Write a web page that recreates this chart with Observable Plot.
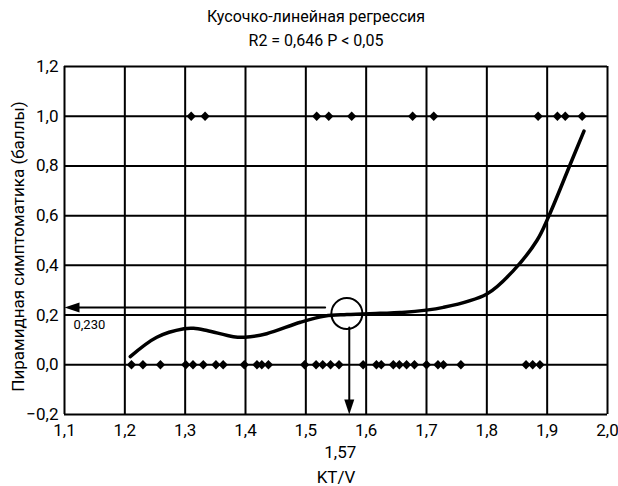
<!DOCTYPE html>
<html>
<head>
<meta charset="utf-8">
<script src="https://cdn.jsdelivr.net/npm/d3@7"></script>
<script src="https://cdn.jsdelivr.net/npm/@observablehq/plot@0.6"></script>
<style>
  body { margin: 0; background: #fff; }
  #wrap { width: 618px; font-family: Roboto, "Liberation Sans", sans-serif; }
  .title { text-align: center; font-size: 16px; line-height: 24px; color: #000; height: 56px; padding-top: 5px; box-sizing: border-box; padding-left: 14px; }
</style>
</head>
<body>
<div id="wrap">
  <div class="title" id="title"></div>
  <div id="chart"></div>
</div>
<script>
// ---- data ----
const titleLines = ["Кусочко-линейная регрессия", "R2 = 0,646 P < 0,05"];
const xLabel = "KT/V";
const yLabel = "Пирамидная симптоматика (баллы)";
const xTicks = [1.1, 1.2, 1.3, 1.4, 1.5, 1.6, 1.7, 1.8, 1.9, 2.0];
const yTicks = [-0.2, 0.0, 0.2, 0.4, 0.6, 0.8, 1.0, 1.2];

// observed patients with score 1
const score1X = [1.310, 1.333, 1.518, 1.538, 1.576, 1.677, 1.712, 1.885, 1.917, 1.930, 1.958];
// observed patients with score 0
const score0X = [1.211, 1.230, 1.259, 1.301, 1.313, 1.330, 1.351, 1.363, 1.398, 1.419, 1.427, 1.438,
                 1.498, 1.517, 1.528, 1.541, 1.555, 1.595, 1.617, 1.625, 1.645, 1.655, 1.667, 1.680,
                 1.700, 1.719, 1.728, 1.757, 1.865, 1.876, 1.888];

// fitted regression curve
const curveX = [1.209, 1.253, 1.298, 1.314, 1.336, 1.380, 1.399, 1.435, 1.491, 1.532, 1.568, 1.623, 1.656, 1.728, 1.800, 1.844, 1.883, 1.902, 1.941, 1.961];
const curveY = [0.033, 0.111, 0.145, 0.147, 0.138, 0.113, 0.111, 0.125, 0.171, 0.196, 0.202, 0.207, 0.210, 0.231, 0.285, 0.379, 0.500, 0.594, 0.823, 0.940];

// threshold annotation
const threshX = 1.572;       // KT/V threshold
const threshY = 0.230;       // score at threshold
const threshXLabel = "1,57";
const threshYLabel = "0,230";
const circleCenter = {x: 1.568, y: 0.206};
const hArrowStartX = 1.532;  // right end of horizontal arrow
const vArrowStartY = 0.150;  // top end of vertical arrow

// ---- build tables ----
document.getElementById("title").innerHTML = titleLines.map(t => t.replace(/</g, "&lt;")).join("<br>");

const pts = [
  ...score1X.map(x => ({x, y: 1})),
  ...score0X.map(x => ({x, y: 0}))
];
const curve = curveX.map((x, i) => ({x, y: curveY[i]}));

const fmt = d => d.toFixed(1).replace(".", ",").replace("-", "−");

// filled arrowhead pointing up with tip at origin
const arrowHead = {
  draw(ctx) {
    ctx.moveTo(0, 0);
    ctx.lineTo(5, 15);
    ctx.lineTo(-5, 15);
    ctx.closePath();
  }
};

const fontFamily = 'Roboto, "Liberation Sans", sans-serif';

const chart = Plot.plot({
  width: 618,
  height: 430,
  marginTop: 10,
  marginBottom: 72,
  marginLeft: 64,
  marginRight: 11,
  style: {fontFamily, fontSize: "17px", color: "#000", background: "#fff", overflow: "visible"},
  x: {domain: [1.1, 2.0], ticks: xTicks},
  y: {domain: [-0.2, 1.2], ticks: yTicks},
  marks: [
    Plot.ruleX(xTicks, {stroke: "#000", strokeWidth: 2}),
    Plot.ruleY(yTicks, {stroke: "#000", strokeWidth: 2}),
    Plot.axisX({ticks: xTicks, tickSize: 0, tickPadding: 9, tickFormat: fmt, label: null, fontSize: 17}),
    Plot.axisY({ticks: yTicks, tickSize: 0, tickPadding: 6, tickFormat: fmt, label: null, fontSize: 17}),
    Plot.line(curve, {x: "x", y: "y", stroke: "#000", strokeWidth: 3.5, curve: "catmull-rom"}),
    Plot.dot(pts, {x: "x", y: "y", symbol: "diamond2", r: 4.2, fill: "#000", stroke: null}),
    // horizontal arrow
    Plot.line([{x: hArrowStartX, y: threshY}, {x: 1.112, y: threshY}], {x: "x", y: "y", stroke: "#000", strokeWidth: 2}),
    Plot.dot([{x: 1.1, y: threshY}], {x: "x", y: "y", symbol: arrowHead, rotate: -90, fill: "#000", stroke: null}),
    // vertical arrow
    Plot.line([{x: threshX, y: vArrowStartY}, {x: threshX, y: -0.17}], {x: "x", y: "y", stroke: "#000", strokeWidth: 2}),
    Plot.dot([{x: threshX, y: -0.2}], {x: "x", y: "y", symbol: arrowHead, rotate: 180, fill: "#000", stroke: null}),
    // circle
    Plot.dot([circleCenter], {x: "x", y: "y", r: 15.5, stroke: "#000", strokeWidth: 2, fill: "none"}),
    // annotation labels
    Plot.text([threshYLabel], {x: 1.1, y: threshY, text: d => d, dx: 9, dy: 17, textAnchor: "start", fontSize: 13}),
    Plot.text([threshXLabel], {x: threshX, text: d => d, frameAnchor: "bottom", lineAnchor: "middle", dy: 38, dx: -9, fontSize: 17}),
    // axis titles
    Plot.text([xLabel], {text: d => d, frameAnchor: "bottom", lineAnchor: "middle", dy: 63, fontSize: 17}),
    Plot.text([yLabel], {text: d => d, frameAnchor: "left", textAnchor: "middle", lineAnchor: "middle", dx: -46, dy: 6, rotate: -90, fontSize: 17})
  ]
});
document.getElementById("chart").appendChild(chart);
</script>
</body>
</html>
